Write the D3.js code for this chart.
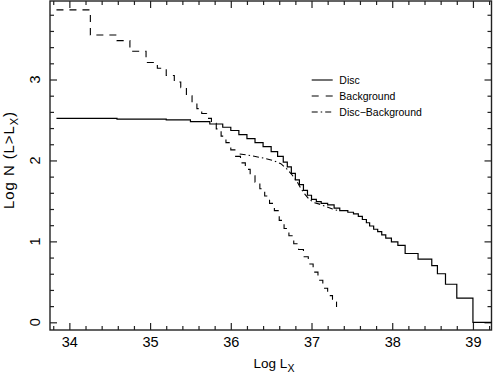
<!DOCTYPE html>
<html><head><meta charset="utf-8">
<script src="https://cdn.jsdelivr.net/npm/d3@7"></script>
<style>
body{margin:0;background:#fff}
svg{display:block}
text{font-family:"Liberation Sans",Arial,sans-serif;fill:#000}
</style>
</head><body>
<svg id="c" width="496" height="373"></svg>
<script>
// ---- data ----
const discX = [33.84, 34.59, 35.20, 35.50, 35.74, 35.90, 36.00, 36.10, 36.20, 36.30, 36.40, 36.50, 36.58, 36.65, 36.70, 36.75, 36.80, 36.85, 36.90, 36.95,
               37.00, 37.06, 37.12, 37.20, 37.28, 37.35, 37.45, 37.52, 37.58, 37.63, 37.68, 37.72, 37.77, 37.82, 37.87, 37.92,
               37.99, 38.07, 38.16, 38.32, 38.49, 38.56, 38.66, 38.80, 39.00, 39.23];
const discY = [2.52, 2.51, 2.50, 2.48, 2.45, 2.41, 2.37, 2.32, 2.27, 2.22, 2.17, 2.11, 2.05, 1.98, 1.92, 1.84, 1.76, 1.70, 1.63, 1.57,
               1.52, 1.49, 1.47, 1.45, 1.41, 1.38, 1.36, 1.34, 1.31, 1.27, 1.23, 1.19, 1.15, 1.12, 1.08, 1.04,
               0.995, 0.95, 0.85, 0.78, 0.70, 0.60, 0.47, 0.30, 0.00, 0.00];

const bgX = [33.84, 34.26, 34.59, 34.75, 34.95, 35.09, 35.20, 35.30, 35.38, 35.45, 35.52, 35.58, 35.64, 35.70, 35.76, 35.82, 35.88, 35.94, 36.00, 36.06,
             36.12, 36.18, 36.24, 36.30, 36.36, 36.42, 36.48, 36.54, 36.60, 36.66, 36.72, 36.78, 36.84, 36.90, 36.96, 37.02, 37.08, 37.14, 37.20, 37.26, 37.31];
const bgY = [3.86, 3.55, 3.48, 3.35, 3.21, 3.14, 3.05, 2.97, 2.90, 2.80, 2.71, 2.64, 2.58, 2.52, 2.46, 2.39, 2.30, 2.22, 2.13, 2.05,
             1.97, 1.89, 1.81, 1.73, 1.65, 1.56, 1.47, 1.38, 1.26, 1.16, 1.07, 0.97, 0.90, 0.81, 0.72, 0.62, 0.52, 0.42, 0.33, 0.25, 0.19];

const diffX = [36.11, 36.25, 36.40, 36.52, 36.62, 36.70, 36.76, 36.82, 36.87, 36.92, 36.97, 37.03, 37.10, 37.18, 37.26, 37.33];
const diffY = [2.08, 2.06, 2.03, 2.00, 1.96, 1.89, 1.82, 1.74, 1.65, 1.58, 1.52, 1.48, 1.46, 1.43, 1.40, 1.38];

const xMajor = [34, 35, 36, 37, 38, 39];
const yMajor = [0, 1, 2, 3];
const legendLabels = ["Disc", "Background", "Disc\u2212Background"];

// ---- layout ----
const L = 50, R = 491.5, T = 1, B = 330;
const x = d3.scaleLinear().domain([33.76, 39.23]).range([L, R]);
const y = d3.scaleLinear().domain([-0.095, 3.97]).range([B, T]);
const svg = d3.select("#c");

const xMinor = d3.range(33.8, 39.21, 0.2).map(v => +v.toFixed(1)).filter(v => Math.abs(v - Math.round(v)) > 1e-6);
const yMinor = d3.range(0, 3.91, 0.2).map(v => +v.toFixed(1)).filter(v => Math.abs(v - Math.round(v)) > 1e-6);

function styleAxis(g){ g.select(".domain").remove(); g.selectAll("line").attr("stroke","#222").attr("stroke-width",1.2); }

// bottom
svg.append("g").attr("transform",`translate(0,${B})`)
  .call(d3.axisBottom(x).tickValues(xMajor).tickSize(-7).tickPadding(7).tickFormat(d3.format("d")))
  .call(styleAxis).call(g=>g.selectAll("text").attr("font-size",14.5).attr("font-family","Liberation Sans, Arial, sans-serif").attr("fill","#000"));
svg.append("g").attr("transform",`translate(0,${B})`)
  .call(d3.axisBottom(x).tickValues(xMinor).tickSize(-4).tickFormat("")).call(styleAxis);
// top
svg.append("g").attr("transform",`translate(0,${T})`)
  .call(d3.axisTop(x).tickValues(xMajor).tickSize(-7).tickFormat("")).call(styleAxis);
svg.append("g").attr("transform",`translate(0,${T})`)
  .call(d3.axisTop(x).tickValues(xMinor).tickSize(-4).tickFormat("")).call(styleAxis);
// left
svg.append("g").attr("transform",`translate(${L},0)`)
  .call(d3.axisLeft(y).tickValues(yMajor).tickSize(-7).tickFormat("")).call(styleAxis);
svg.append("g").attr("transform",`translate(${L},0)`)
  .call(d3.axisLeft(y).tickValues(yMinor).tickSize(-4).tickFormat("")).call(styleAxis);
// right
svg.append("g").attr("transform",`translate(${R},0)`)
  .call(d3.axisRight(y).tickValues(yMajor).tickSize(-7).tickFormat("")).call(styleAxis);
svg.append("g").attr("transform",`translate(${R},0)`)
  .call(d3.axisRight(y).tickValues(yMinor).tickSize(-4).tickFormat("")).call(styleAxis);

// rotated y tick labels
svg.append("g").selectAll("text").data(yMajor).join("text")
  .attr("transform", d => `translate(40,${y(d)}) rotate(-90)`)
  .attr("text-anchor","middle").attr("font-size",14.5).text(d => d);

// frame
svg.append("rect").attr("x",L).attr("y",T).attr("width",R-L).attr("height",B-T)
  .attr("fill","none").attr("stroke","#222").attr("stroke-width",1.4);

// titles
const xt = svg.append("text").attr("x",274).attr("y",368).attr("text-anchor","middle").attr("font-size",13.5);
xt.append("tspan").text("Log L");
xt.append("tspan").attr("font-size",10.5).attr("dy",4).text("X");

const yt = svg.append("text").attr("transform","translate(14,160) rotate(-90)").attr("text-anchor","middle")
  .attr("font-size",15).attr("letter-spacing",0.9);
yt.append("tspan").text("Log N (L>L");
yt.append("tspan").attr("font-size",11).attr("dy",4).text("X");
yt.append("tspan").attr("dy",-4).text(")");

// lines
const step = d3.line().x(d=>x(d[0])).y(d=>y(d[1])).curve(d3.curveStepAfter);
const lin = d3.line().x(d=>x(d[0])).y(d=>y(d[1]));
const disc = d3.zip(discX, discY), bg = d3.zip(bgX, bgY), diff = d3.zip(diffX, diffY);

svg.append("path").attr("d", step(bg)).attr("fill","none").attr("stroke","#000").attr("stroke-width",1.1).attr("stroke-dasharray","7,6");
svg.append("path").attr("d", lin(diff)).attr("fill","none").attr("stroke","#000").attr("stroke-width",1.1).attr("stroke-dasharray","6,3,1.5,3");
svg.append("path").attr("d", step(disc)).attr("fill","none").attr("stroke","#000").attr("stroke-width",1.2);

// legend
const dashes = [null, "7,7", "6,3,1.5,3"];
const lg = svg.append("g");
legendLabels.forEach((t,i) => {
  const yy = 80 + i*16;
  lg.append("line").attr("x1",311.7).attr("x2",332.7).attr("y1",yy).attr("y2",yy)
    .attr("stroke","#000").attr("stroke-width",1.1).attr("stroke-dasharray", dashes[i]);
  lg.append("text").attr("x",339.3).attr("y",yy+3.8).attr("font-size",10.5).text(t);
});
</script>
</body></html>
